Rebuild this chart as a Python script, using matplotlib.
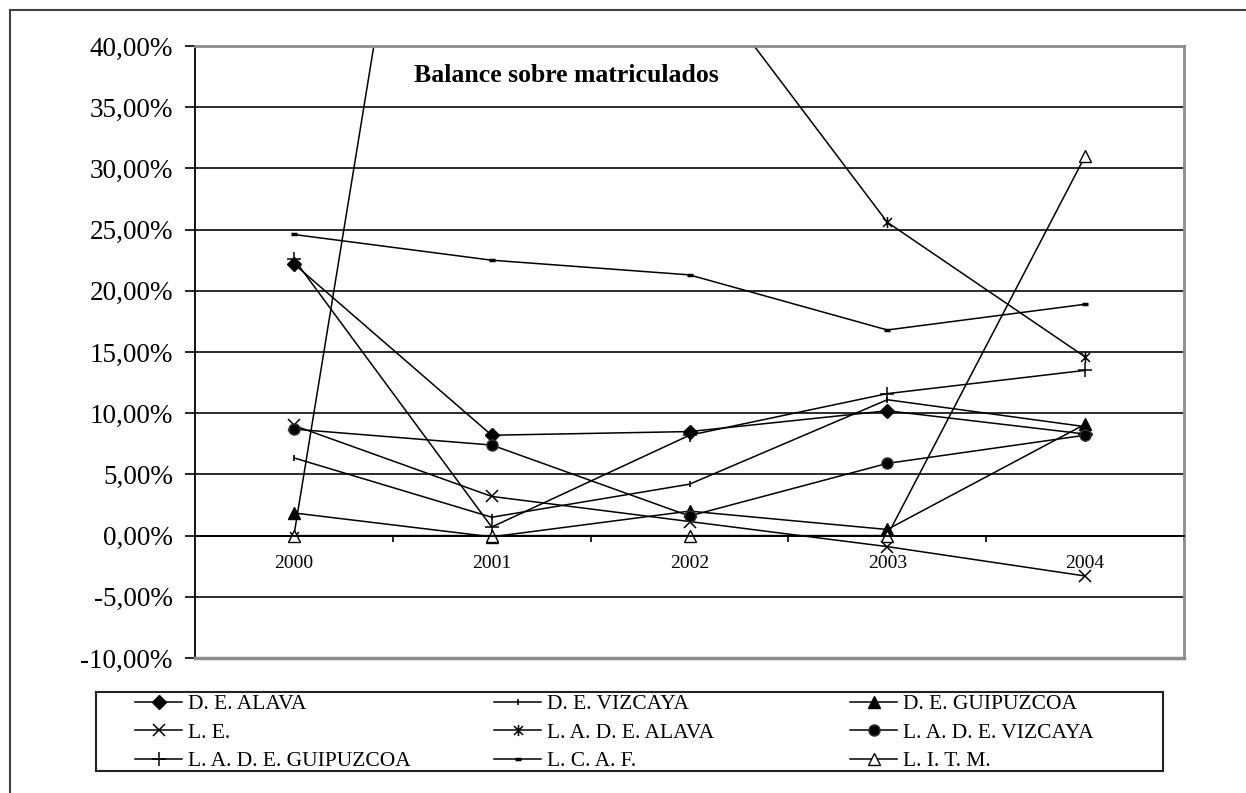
import matplotlib.pyplot as plt
from matplotlib.path import Path
from matplotlib.lines import Line2D
from matplotlib.patches import Rectangle

years = ["2000", "2001", "2002", "2003", "2004"]

de_alava = [22.2, 8.2, 8.5, 10.2, 8.3]
de_vizcaya = [6.35, 1.5, 4.2, 11.1, 8.9]
de_guipuzcoa = [1.85, -0.1, 2.0, 0.5, 9.1]
le = [9.0, 3.2, 1.15, -0.9, -3.3]
lade_alava = [0.0, 99.0, 47.0, 25.6, 14.6]
lade_vizcaya = [8.7, 7.4, 1.6, 5.9, 8.2]
lade_guipuzcoa = [22.6, 0.7, 8.2, 11.6, 13.5]
lcaf = [24.6, 22.5, 21.3, 16.8, 18.9]
litm = [0.0, 0.0, 0.0, 0.0, 31.0]

y_ticks = [-10, -5, 0, 5, 10, 15, 20, 25, 30, 35, 40]
y_labels = ["-10,00%", "-5,00%", "0,00%", "5,00%", "10,00%", "15,00%",
            "20,00%", "25,00%", "30,00%", "35,00%", "40,00%"]

title = "Balance sobre matriculados"

plt.rcParams['font.family'] = ['Liberation Serif', 'DejaVu Serif']

W, H = 1246, 793
fig = plt.figure(figsize=(W / 100, H / 100), dpi=100)
fig.patch.set_facecolor("white")

# outer frame (only top and left visible in the original crop)
fig.add_artist(Line2D([10 / W, 1.0], [1 - 10 / H, 1 - 10 / H], color="#404040", lw=1.5))
fig.add_artist(Line2D([10 / W, 10 / W], [1 - 10 / H, 0.0], color="#404040", lw=1.5))

left, right, top, bottom = 195, 1184, 46, 658
ax = fig.add_axes([left / W, 1 - bottom / H, (right - left) / W, (bottom - top) / H])

asterisk = Path([(0, -1), (0, 1), (-0.8, -0.8), (0.8, 0.8), (-0.8, 0.8), (0.8, -0.8)],
                [Path.MOVETO, Path.LINETO, Path.MOVETO, Path.LINETO, Path.MOVETO, Path.LINETO])

series = [
    ("D. E. ALAVA", de_alava, dict(marker="D", ms=7, mfc="black", mec="black")),
    ("D. E. VIZCAYA", de_vizcaya, dict(marker="|", ms=4, mec="black", mew=1.2)),
    ("D. E. GUIPUZCOA", de_guipuzcoa, dict(marker="^", ms=8, mfc="black", mec="black")),
    ("L. E.", le, dict(marker="x", ms=8, mec="black", mew=1.1)),
    ("L. A. D. E. ALAVA", lade_alava, dict(marker=asterisk, ms=8, mec="black", mew=1.1)),
    ("L. A. D. E. VIZCAYA", lade_vizcaya, dict(marker="o", ms=8, mfc="black", mec="#333333")),
    ("L. A. D. E. GUIPUZCOA", lade_guipuzcoa, dict(marker="+", ms=10, mec="black", mew=1.1)),
    ("L. C. A. F.", lcaf, dict(marker="_", ms=5, mec="black", mew=2.5)),
    ("L. I. T. M.", litm, dict(marker="^", ms=8, mfc="white", mec="black", mew=1.0)),
]

x = list(range(len(years)))
handles = []
for name, vals, style in series:
    h, = ax.plot(x, vals, color="black", lw=1.1, label=name, **style)
    handles.append(h)

ax.set_xlim(-0.5, len(years) - 0.5)
ax.set_ylim(-10, 40)

ax.set_yticks(y_ticks)
ax.set_yticklabels(y_labels)
ax.tick_params(axis="y", direction="out", length=7, width=1.2, pad=9, labelsize=19.5)
ax.yaxis.grid(True, color="#1a1a1a", lw=1.3)
ax.set_axisbelow(True)

# categories between boundary ticks, axis crossing at zero
ax.set_xticks([i + 0.5 for i in x])
ax.set_xticklabels([])
ax.set_xticks(x, minor=True)
ax.set_xticklabels(years, minor=True)
ax.tick_params(axis="x", which="major", direction="out", length=4, width=1.2)
ax.tick_params(axis="x", which="minor", length=0, pad=14, labelsize=14)

ax.spines["bottom"].set_position(("data", 0))
ax.spines["bottom"].set_color("black")
ax.spines["bottom"].set_linewidth(1.3)
ax.spines["left"].set_color("black")
ax.spines["left"].set_linewidth(1.3)
for s in ("top", "right"):
    ax.spines[s].set_color("#8c8c8c")
    ax.spines[s].set_linewidth(2)
ax.axhline(-10, color="#8c8c8c", lw=2.5, clip_on=False, zorder=3)

ax.text(0.375, 0.951, title, transform=ax.transAxes, ha="center", va="center",
        fontsize=18.5, fontweight="bold")

# legend box with three equal columns
fig.add_artist(Rectangle((96 / W, 1 - 771 / H), (1163 - 96) / W, (771 - 692) / H,
                         transform=fig.transFigure, fill=False, ec="#222222", lw=1.5))
col_x = [135, 494, 850]
for c in range(3):
    hs = [handles[c + 3 * r] for r in range(3)]
    fig.legend(handles=hs, loc="upper left",
               bbox_to_anchor=(col_x[c] / W, 1 - 694 / H),
               frameon=False, fontsize=15.5, borderpad=0, borderaxespad=0,
               handlelength=2.2, handletextpad=0.28, labelspacing=0.4)

fig.savefig("out.png", dpi=100)
